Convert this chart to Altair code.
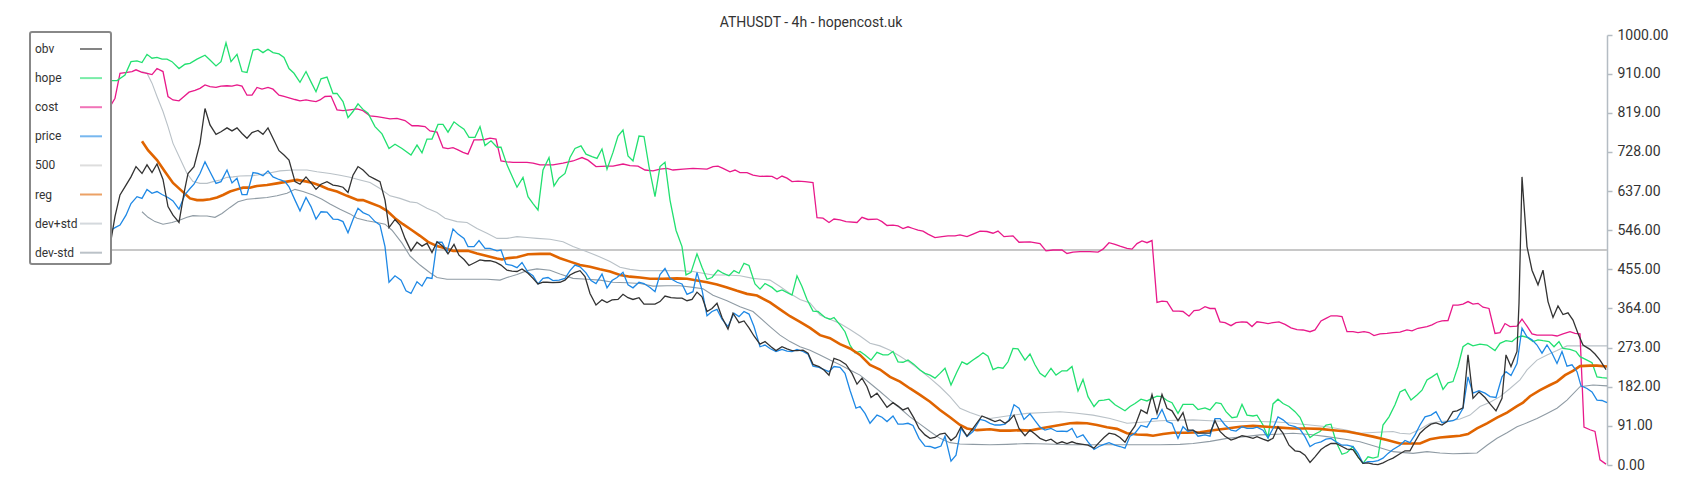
import altair as alt
import pandas as pd

# ---- data (x = time position, v = normalised value 0..1000) ----
obv_x = [100, 111, 115, 120, 126, 131, 136, 142, 147, 152, 157, 163, 168, 173, 179, 184, 188, 194, 200, 205, 210, 216, 221, 227, 232, 237, 242, 247, 252, 258, 263, 268, 273, 279, 284, 289, 295, 300, 306, 311, 316, 321,
         327, 333, 338, 343, 348, 353, 358, 363, 369, 375, 380, 385, 389, 395, 400, 405, 411, 417, 422, 427, 432, 437, 443, 448, 454, 459, 464, 469, 475, 480, 485, 490, 496, 501, 507, 512, 517, 522, 528, 533, 538, 543,
         547, 553, 560, 565, 570, 575, 580, 585, 590, 596, 602, 607, 612, 618, 623, 628, 633, 639, 644, 650, 655, 660, 665, 671, 677, 682, 687, 692, 697, 702, 707, 712, 717, 722, 728, 733, 739, 744, 749, 754, 760, 765,
         771, 776, 782, 787, 792, 797, 803, 808, 813, 819, 824, 829, 834, 840, 846, 852, 857, 862, 867, 871, 877, 882, 887, 893, 898, 903, 908, 914, 919, 925, 930, 935, 940, 945, 951, 956, 961, 967, 973, 982,
         985, 990, 995, 1000, 1005, 1009, 1014, 1019, 1025, 1030, 1035, 1040, 1046, 1051, 1057, 1062, 1067, 1072, 1077, 1083, 1088, 1094, 1099, 1104, 1109, 1115, 1120, 1125, 1130, 1135, 1141, 1147, 1152, 1157, 1162, 1167, 1172, 1178, 1183, 1188, 1193, 1198,
         1205, 1210, 1215, 1220, 1225, 1231, 1236, 1242, 1247, 1253, 1257, 1263, 1268, 1273, 1278, 1283, 1289, 1295, 1300, 1305, 1310, 1315, 1321, 1326, 1331, 1336, 1342, 1347, 1353, 1358, 1363, 1368, 1373, 1378, 1383, 1388, 1393,
         1400, 1405, 1410, 1415, 1420, 1425, 1431, 1436, 1442, 1447, 1453, 1457, 1463, 1468, 1473, 1479, 1485, 1490, 1496, 1502, 1506, 1511, 1517, 1519, 1522, 1527, 1532, 1538, 1543, 1548, 1553, 1558, 1563, 1568, 1573, 1578, 1583, 1590, 1595, 1600, 1606]
obv_v = [523, 523, 578, 628, 651, 670, 694, 678, 698, 680, 700, 664, 601, 581, 564, 632, 678, 694, 748, 829, 791, 769, 775, 784, 777, 784, 771, 760, 773, 778, 769, 784, 760, 731, 721, 709, 659, 653, 670, 656, 641, 653,
         659, 651, 649, 646, 634, 674, 694, 686, 672, 665, 659, 616, 552, 571, 558, 527, 498, 518, 509, 516, 494, 519, 508, 491, 513, 488, 478, 464, 471, 477, 475, 475, 471, 465, 453, 451, 450, 456, 446, 434, 421, 425,
         425, 424, 425, 430, 442, 448, 452, 438, 399, 372, 384, 378, 384, 385, 397, 389, 385, 389, 374, 374, 374, 380, 393, 389, 388, 388, 382, 385, 402, 391, 357, 364, 376, 343, 316, 353, 331, 335, 319, 300, 281, 287,
         275, 266, 275, 270, 266, 266, 267, 260, 234, 229, 221, 209, 248, 243, 234, 213, 188, 202, 182, 157, 167, 151, 134, 145, 137, 128, 133, 109, 85, 70, 62, 64, 72, 74, 57, 66, 89, 67, 85, 114,
         111, 106, 101, 105, 97, 103, 116, 85, 68, 81, 72, 62, 56, 60, 50, 54, 50, 54, 50, 48, 46, 39, 52, 64, 74, 71, 64, 53, 74, 91, 128, 120, 164, 120, 164, 132, 126, 103, 122, 81, 81, 74,
         74, 74, 103, 78, 67, 58, 62, 68, 66, 62, 66, 60, 56, 62, 89, 74, 46, 33, 31, 23, 6, 19, 36, 44, 50, 50, 43, 37, 36, 19, 4, 5, 2, 1, 5, 11, 16,
         26, 33, 33, 54, 74, 85, 95, 98, 93, 101, 124, 126, 133, 256, 155, 170, 157, 142, 126, 155, 256, 229, 264, 376, 670, 508, 453, 419, 453, 380, 343, 370, 350, 354, 337, 306, 279, 269, 258, 244, 222]

hope_x = [100, 111, 117, 125, 131, 137, 142, 147, 152, 157, 162, 167, 172, 179, 185, 190, 197, 205, 210, 216, 221, 226, 231, 237, 242, 247, 253, 258, 263, 268, 273, 279, 284, 289, 294, 300, 306, 311, 316, 321,
          327, 333, 337, 343, 348, 353, 358, 363, 368, 375, 382, 389, 395, 402, 411, 417, 422, 427, 432, 438, 443, 448, 454, 459, 464, 469, 475, 480, 485, 491, 497, 501, 507, 512, 517, 523, 528, 533, 538,
          543, 549, 554, 559, 565, 570, 575, 581, 586, 592, 597, 602, 607, 613, 618, 623, 628, 633, 639, 644, 649, 655, 660, 665, 670, 676, 682, 686, 691, 697, 702, 707, 712, 718, 723, 729, 734, 739, 744, 749, 755, 760, 765,
          772, 777, 782, 792, 797, 802, 807, 813, 818, 825, 830, 834, 840, 845, 850, 855, 860, 865, 871, 877, 883, 888, 893, 898, 903, 908, 914, 920, 925, 930, 935, 940, 945, 951, 957, 962, 967, 973, 978, 983,
          988, 993, 998, 1003, 1008, 1013, 1018, 1025, 1030, 1035, 1040, 1045, 1051, 1056, 1062, 1067, 1072, 1078, 1083, 1088, 1094, 1099, 1104, 1109, 1115, 1120, 1125, 1130, 1135, 1141, 1147, 1152, 1157, 1162, 1167, 1172, 1178, 1183, 1188, 1193, 1198,
          1205, 1210, 1216, 1221, 1226, 1232, 1237, 1242, 1247, 1253, 1257, 1263, 1268, 1273, 1278, 1283, 1289, 1295, 1300, 1305, 1310, 1315, 1320, 1326, 1331, 1336, 1342, 1347, 1353, 1358, 1363, 1368, 1373, 1378, 1383, 1389, 1395,
          1400, 1405, 1411, 1417, 1422, 1427, 1432, 1437, 1443, 1448, 1453, 1458, 1463, 1468, 1473, 1480, 1487, 1495, 1500, 1506, 1512, 1517, 1522, 1527, 1533, 1538, 1543, 1549, 1554, 1559, 1563, 1570, 1576, 1580, 1587, 1592, 1597, 1602, 1607]
hope_v = [894, 894, 894, 907, 938, 940, 936, 955, 946, 948, 944, 944, 938, 922, 932, 934, 944, 953, 942, 928, 938, 982, 938, 955, 915, 913, 965, 967, 959, 967, 959, 956, 948, 922, 911, 890, 915, 891, 868, 898,
          902, 864, 864, 845, 808, 822, 840, 827, 818, 787, 770, 736, 746, 736, 721, 744, 726, 758, 758, 792, 792, 774, 798, 789, 781, 762, 762, 787, 743, 754, 739, 739, 698, 672, 646, 669, 624, 608, 593,
          686, 715, 649, 667, 678, 715, 736, 742, 723, 717, 713, 735, 688, 727, 765, 779, 719, 707, 765, 764, 694, 624, 694, 704, 616, 546, 508, 442, 448, 491, 460, 432, 436, 453, 446, 440, 452, 446, 469, 464, 421, 409, 422,
          413, 403, 407, 395, 440, 415, 385, 358, 357, 343, 339, 343, 326, 310, 279, 261, 264, 256, 244, 262, 256, 256, 264, 240, 239, 244, 234, 221, 213, 209, 202, 213, 225, 186, 217, 240, 234, 244, 252, 261,
          253, 222, 227, 225, 240, 271, 270, 244, 258, 233, 213, 205, 225, 209, 219, 219, 229, 172, 199, 159, 136, 150, 151, 153, 140, 133, 126, 136, 143, 153, 149, 155, 160, 159, 150, 145, 120, 141, 141, 141, 129,
          133, 128, 145, 143, 124, 110, 112, 141, 116, 114, 116, 93, 64, 142, 153, 143, 136, 124, 111, 85, 64, 72, 78, 93, 95, 54, 25, 29, 43, 19, 4, 19, 16, 19, 93, 112, 140,
          170, 176, 151, 163, 174, 198, 205, 213, 176, 191, 194, 229, 275, 283, 277, 281, 279, 266, 283, 289, 287, 297, 300, 297, 287, 291, 289, 287, 275, 287, 271, 269, 264, 252, 244, 238, 205, 203, 202]

cost_x = [100, 111, 115, 120, 127, 132, 136, 142, 147, 152, 157, 163, 168, 173, 179, 184, 189, 195, 200, 205, 210, 216, 221, 227, 232, 237, 242, 247, 252, 257, 262, 268, 273, 279, 284, 289, 295, 300, 306, 311, 316,
          320, 325, 331, 337, 343, 350, 357, 363, 370, 377, 383, 390, 397, 405, 412, 418, 425, 430, 437, 443, 448, 453, 458, 463, 468, 474, 479, 485, 490, 496, 501, 507, 513, 520, 527, 533,
          540, 553, 563, 573, 582, 588, 596, 607, 613, 623, 630, 638, 645, 653, 660, 667, 673, 683, 693, 707, 713, 718, 723, 730, 735, 740, 747, 753,
          760, 767, 772, 777, 782, 787, 792, 798, 805, 813, 817, 823, 829, 834, 840, 846, 857, 862, 868, 877, 882, 887, 893, 898, 903, 908, 913, 918, 923, 928, 935, 942, 948, 955, 960, 967, 973,
          980, 987, 993, 998, 1004, 1013, 1019, 1030, 1040, 1046, 1053, 1062, 1067, 1073, 1080, 1090, 1098, 1103, 1109, 1115, 1120, 1127, 1132, 1137, 1142, 1147, 1152, 1157, 1162, 1167, 1173, 1179, 1183, 1189, 1194, 1199,
          1205, 1210, 1215, 1220, 1225, 1231, 1236, 1242, 1247, 1252, 1257, 1263, 1268, 1273, 1279, 1285, 1291, 1297, 1303, 1310, 1315, 1321, 1326, 1331, 1337, 1342, 1347, 1353, 1358, 1364, 1369, 1374, 1380, 1387, 1393,
          1400, 1407, 1412, 1418, 1427, 1432, 1437, 1442, 1448, 1453, 1458, 1463, 1468, 1473, 1478, 1483, 1489, 1495, 1500, 1505, 1510, 1517, 1522, 1527, 1532, 1537, 1542, 1547, 1552, 1557, 1563, 1570, 1575, 1580, 1584, 1590, 1595, 1600, 1606]
cost_v = [837, 837, 853, 911, 913, 915, 919, 913, 911, 908, 922, 915, 857, 849, 847, 857, 867, 871, 876, 884, 880, 878, 881, 882, 881, 884, 881, 860, 860, 878, 874, 878, 874, 860, 857, 854, 850, 847, 849, 847, 845,
          849, 857, 858, 826, 824, 826, 828, 824, 812, 810, 808, 805, 806, 801, 789, 789, 787, 777, 774, 738, 736, 738, 733, 727, 723, 756, 756, 757, 760, 758, 707, 705, 704, 704, 704, 702,
          698, 698, 702, 707, 715, 709, 694, 695, 695, 700, 696, 695, 686, 684, 688, 690, 686, 688, 690, 688, 694, 695, 690, 682, 686, 680, 680, 674,
          671, 672, 671, 665, 672, 667, 659, 660, 659, 657, 575, 574, 564, 572, 570, 566, 564, 576, 571, 572, 566, 557, 558, 556, 550, 554, 550, 546, 544, 537, 529, 531, 533, 533, 535, 531, 537,
          544, 543, 539, 544, 531, 533, 518, 519, 515, 498, 500, 500, 492, 495, 496, 496, 495, 502, 517, 513, 509, 504, 502, 515, 521, 517, 522, 378, 381, 380, 358, 358, 357, 346, 359, 360,
          368, 364, 364, 333, 331, 324, 331, 333, 332, 322, 333, 331, 329, 331, 333, 327, 319, 315, 314, 310, 314, 335, 341, 347, 347, 345, 310, 310, 308, 310, 308, 301, 305, 306, 308,
          309, 314, 312, 318, 322, 326, 332, 335, 336, 372, 372, 374, 380, 374, 376, 367, 364, 306, 308, 329, 322, 323, 339, 323, 305, 302, 302, 302, 302, 300, 305, 310, 306, 305, 88, 82, 78, 12, 2]

price_x = [100, 111, 115, 120, 126, 131, 137, 142, 147, 152, 157, 162, 168, 173, 179, 185, 190, 194, 200, 205, 210, 216, 221, 227, 232, 237, 242, 247, 253, 258, 263, 268, 273, 279, 285, 289, 295, 300, 306, 311, 316, 321,
           327, 333, 338, 343, 348, 353, 358, 363, 369, 375, 380, 385, 389, 395, 401, 406, 411, 417, 422, 427, 432, 437, 442, 447, 453, 458, 464, 468, 474, 479, 485, 490, 497, 501, 506, 512, 517, 522, 528, 533, 538, 543,
           548, 553, 559, 565, 570, 575, 580, 586, 591, 596, 602, 607, 612, 617, 623, 628, 633, 639, 644, 650, 655, 660, 665, 670, 677, 682, 687, 693, 697, 702, 707, 712, 717, 722, 728, 734, 739, 744, 749, 754, 760, 765,
           770, 776, 782, 787, 792, 797, 803, 808, 813, 819, 824, 829, 834, 840, 845, 850, 856, 860, 865, 870, 877, 882, 887, 893, 898, 903, 908, 913, 919, 925, 930, 935, 941, 945, 951, 956, 961, 967, 973, 980,
           985, 990, 995, 1000, 1005, 1009, 1014, 1019, 1024, 1030, 1035, 1040, 1045, 1051, 1057, 1062, 1067, 1072, 1077, 1083, 1088, 1094, 1099, 1104, 1109, 1115, 1120, 1125, 1130, 1135, 1141, 1147, 1152, 1157, 1162, 1167, 1172, 1178, 1183, 1188, 1193, 1198,
           1205, 1210, 1215, 1220, 1225, 1231, 1236, 1242, 1247, 1253, 1257, 1263, 1268, 1273, 1278, 1283, 1289, 1295, 1300, 1305, 1310, 1315, 1321, 1326, 1331, 1336, 1342, 1347, 1353, 1358, 1363, 1368, 1373, 1378, 1383, 1388, 1393,
           1400, 1405, 1410, 1415, 1420, 1425, 1431, 1436, 1442, 1447, 1453, 1457, 1463, 1468, 1473, 1479, 1485, 1490, 1496, 1502, 1506, 1511, 1517, 1522, 1527, 1532, 1537, 1542, 1547, 1552, 1557, 1562, 1567, 1572, 1577, 1581, 1587, 1592, 1597, 1602, 1607]
price_v = [546, 546, 552, 558, 581, 608, 624, 620, 641, 632, 636, 629, 622, 614, 595, 629, 643, 653, 678, 705, 682, 655, 659, 686, 656, 667, 629, 629, 680, 678, 673, 684, 670, 664, 659, 647, 616, 591, 622, 601, 572, 589,
           588, 572, 571, 566, 540, 571, 597, 587, 581, 566, 558, 508, 425, 440, 430, 405, 399, 426, 416, 436, 434, 518, 518, 496, 549, 537, 527, 508, 508, 522, 504, 504, 498, 500, 467, 464, 459, 471, 448, 440, 421, 434,
           436, 429, 430, 434, 452, 465, 461, 447, 429, 422, 444, 412, 429, 436, 448, 419, 412, 425, 422, 413, 403, 443, 457, 434, 425, 421, 397, 403, 448, 407, 347, 357, 362, 339, 322, 353, 345, 357, 351, 322, 275, 279,
           271, 264, 269, 265, 264, 269, 264, 258, 230, 227, 222, 217, 229, 227, 213, 174, 132, 136, 120, 97, 116, 111, 101, 114, 95, 95, 97, 92, 62, 44, 43, 39, 44, 67, 9, 23, 85, 66, 78, 106,
           103, 97, 93, 93, 95, 105, 140, 132, 106, 119, 103, 88, 81, 85, 78, 79, 78, 85, 64, 70, 54, 36, 43, 48, 52, 46, 43, 39, 67, 74, 92, 88, 108, 108, 129, 101, 97, 62, 89, 78, 81, 67,
           70, 67, 108, 108, 93, 81, 79, 89, 85, 85, 88, 81, 63, 85, 112, 105, 93, 89, 83, 66, 43, 50, 54, 60, 62, 54, 46, 46, 43, 27, 4, 8, 8, 10, 16, 27, 36,
           46, 57, 52, 70, 93, 112, 116, 124, 98, 101, 103, 108, 132, 205, 167, 173, 167, 159, 157, 205, 217, 208, 236, 318, 298, 291, 279, 260, 279, 260, 236, 264, 230, 233, 217, 184, 178, 170, 151, 150, 145]

level_x = [100, 1607]
level_v = [500, 500]

reg_x = [142, 148, 157, 165, 173, 182, 190, 197, 203, 210, 217, 223, 230, 237, 243, 250, 257, 267, 277, 287, 297, 307, 313,
         320, 328, 337, 347, 358, 363, 370, 380, 387, 395, 403, 412, 420, 428, 437, 445, 453, 468, 477, 487, 497, 502, 507, 517, 528, 540,
         550, 560, 570, 580, 590, 600, 610, 620, 630, 640, 650, 663, 677, 687, 697, 707, 717, 727, 737, 747, 757,
         770, 780, 790, 800, 810, 820, 830, 840, 850, 860, 870, 880, 890, 900, 910, 920, 930, 940, 950, 960, 967, 977, 990,
         1000, 1010, 1020, 1030, 1040, 1050, 1060, 1070, 1077, 1087, 1097, 1107, 1117, 1127, 1137, 1147, 1153, 1163, 1173, 1187, 1200,
         1213, 1227, 1240, 1253, 1267, 1280, 1293, 1307, 1320, 1333, 1347, 1360, 1373, 1387, 1400,
         1410, 1420, 1430, 1440, 1450, 1460, 1468, 1477, 1487, 1497, 1507, 1517, 1523, 1530, 1540, 1550, 1557, 1565, 1573, 1580, 1590, 1597, 1607]
reg_v = [753, 732, 709, 682, 656, 637, 620, 616, 616, 618, 622, 628, 636, 641, 645, 645, 649, 651, 655, 659, 663, 659, 656,
         650, 642, 636, 626, 616, 616, 610, 601, 591, 574, 560, 546, 533, 519, 509, 504, 498, 498, 492, 486, 480, 478, 481, 483, 490, 491,
         491, 481, 473, 465, 461, 455, 450, 442, 438, 436, 433, 433, 434, 433, 429, 425, 420, 413, 405, 398, 394,
         378, 362, 346, 333, 319, 302, 295, 281, 271, 256, 233, 222, 205, 194, 178, 163, 147, 128, 111, 93, 85, 81, 83,
         80, 80, 81, 80, 85, 89, 93, 97, 98, 97, 93, 88, 84, 74, 71, 70, 68, 72, 75, 75, 76,
         81, 85, 89, 91, 89, 87, 85, 85, 84, 81, 78, 72, 66, 58, 50,
         50, 50, 60, 64, 66, 68, 72, 85, 97, 110, 122, 137, 145, 160, 174, 186, 194, 209, 219, 230, 231, 231, 229]

devp_x = [142, 147, 152, 157, 163, 168, 173, 180, 187, 193, 200, 207, 213, 220, 227, 233, 240, 253, 267, 280, 293, 307, 317,
          330, 340, 350, 360, 370, 380, 390, 400, 410, 417, 427, 437, 445, 457, 467, 477, 487, 497, 507, 517, 527, 537,
          550, 563, 573, 587, 600, 610, 620, 630, 640, 653, 667, 680, 693, 703, 713, 727, 740, 753,
          770, 780, 790, 800, 810, 820, 830, 840, 850, 860, 870, 880, 890, 900, 910, 920, 930, 940, 950, 960, 970, 980, 990,
          1007, 1027, 1045, 1060, 1075, 1093, 1110, 1127, 1145, 1160, 1177, 1193, 1210, 1227, 1245, 1260, 1277, 1293, 1310, 1327, 1345, 1360, 1377, 1393,
          1400, 1410, 1420, 1430, 1440, 1450, 1460, 1470, 1480, 1490, 1500, 1510, 1520, 1527, 1537, 1547, 1557, 1567, 1580, 1593, 1607]
devp_v = [915, 911, 888, 857, 822, 787, 748, 713, 678, 659, 655, 655, 659, 663, 669, 670, 672, 673, 678, 684, 686, 686, 682,
          678, 674, 669, 663, 657, 643, 626, 620, 612, 610, 597, 587, 574, 566, 564, 550, 539, 527, 527, 531, 529, 527,
          525, 519, 508, 496, 484, 473, 460, 455, 452, 452, 452, 452, 450, 446, 442, 442, 440, 434,
          430, 415, 399, 385, 377, 349, 339, 329, 315, 300, 283, 277, 267, 253, 238, 221, 202, 182, 159, 132, 122, 114, 108,
          114, 120, 122, 124, 121, 116, 108, 97, 100, 103, 104, 105, 103, 101, 101, 101, 100, 97, 93, 89, 82, 74, 76, 78,
          74, 72, 83, 97, 101, 103, 107, 116, 136, 146, 159, 178, 198, 221, 244, 256, 266, 277, 277, 277, 277]

devm_x = [142, 148, 155, 163, 172, 180, 187, 193, 200, 207, 215, 222, 230, 238, 247, 257, 267, 277, 287, 295, 303, 313, 322,
          330, 340, 350, 357, 367, 377, 385, 392, 402, 410, 420, 430, 437, 447, 460, 473, 487, 500, 507, 517, 527, 537,
          550, 560, 573, 587, 600, 613, 627, 640, 653, 667, 680, 693, 703, 713, 727, 740, 753,
          770, 780, 790, 800, 810, 820, 830, 840, 850, 860, 870, 880, 890, 900, 910, 920, 930, 940, 950, 960, 973, 990,
          1007, 1027, 1047, 1070, 1093, 1120, 1140, 1160, 1180, 1193, 1210, 1227, 1245, 1260, 1280, 1293, 1310, 1327, 1345, 1360, 1380, 1393,
          1413, 1427, 1440, 1453, 1467, 1477, 1487, 1497, 1507, 1517, 1527, 1537, 1547, 1557, 1567, 1580, 1593, 1607]
devm_v = [589, 576, 566, 560, 564, 570, 576, 580, 579, 579, 576, 585, 599, 612, 618, 620, 622, 626, 632, 641, 636, 628, 618,
          607, 595, 584, 574, 568, 564, 560, 546, 516, 486, 465, 447, 436, 432, 432, 432, 432, 430, 436, 443, 452, 456,
          453, 444, 434, 432, 430, 425, 424, 422, 416, 417, 417, 413, 410, 395, 382, 368, 357,
          322, 302, 287, 275, 267, 256, 244, 233, 221, 209, 190, 171, 151, 132, 112, 95, 78, 62, 52, 49, 48, 47,
          48, 50, 49, 47, 47, 47, 47, 47, 48, 50, 55, 62, 66, 70, 72, 74, 71, 66, 60, 54, 40, 31,
          27, 31, 28, 26, 27, 28, 46, 62, 75, 89, 98, 108, 120, 132, 151, 182, 186, 184]

names = ["obv", "hope", "cost", "price", "500", "reg", "dev+std", "dev-std"]
colors = ["#333333", "#22e070", "#e8198a", "#1e88e5", "#c8c8c8", "#e06400", "#b9c1c7", "#8f9ba4"]
widths = {"obv": 1.3, "hope": 1.3, "cost": 1.3, "price": 1.3, "500": 2.2,
          "reg": 2.6, "dev+std": 1.1, "dev-std": 1.1}
series = {
    "obv": (obv_x, obv_v), "hope": (hope_x, hope_v), "cost": (cost_x, cost_v),
    "price": (price_x, price_v), "500": (level_x, level_v), "reg": (reg_x, reg_v),
    "dev+std": (devp_x, devp_v), "dev-std": (devm_x, devm_v),
}

frames = {}
for name, (xs, vs) in series.items():
    frames[name] = pd.DataFrame({"bar": [(x - 100) / 5 for x in xs], "value": vs, "series": name})

x_scale = alt.Scale(domain=[-17, 301.4], nice=False, zero=False)
y_scale = alt.Scale(domain=[0, 1000], nice=False, zero=True)
color_scale = alt.Scale(domain=names, range=colors)
tick_vals = [0, 91, 182, 273, 364, 455, 546, 637, 728, 819, 910, 1000]

legend = alt.Legend(
    title=None, orient="none", legendX=15, legendY=-3,
    symbolType="stroke", symbolSize=484, symbolStrokeWidth=2, symbolOpacity=0.6,
    symbolOffset=44, labelOffset={"expr": "-68"}, rowPadding=11.1,
    labelFont="Roboto", labelFontSize=12, labelColor="#333333",
    strokeColor="#888888", fillColor="white", padding=5, cornerRadius=2,
)

draw_order = ["500", "dev+std", "dev-std", "cost", "hope", "reg", "price", "obv"]
layers = []
for name in draw_order:
    layers.append(
        alt.Chart(frames[name]).mark_line(strokeWidth=widths[name], interpolate="linear").encode(
            x=alt.X("bar:Q", scale=x_scale, axis=None),
            y=alt.Y("value:Q", scale=y_scale, axis=alt.Axis(
                orient="right", values=tick_vals, format=".2f", title=None, grid=False,
                labelFont="Roboto", labelFontSize=14, labelColor="#333333",
                domainColor="#b4bcc3", domainWidth=1.5, tickColor="#b4bcc3",
                tickWidth=1.5, tickSize=5, labelPadding=5)),
            color=alt.Color("series:N", scale=color_scale, legend=legend),
        )
    )

chart = alt.layer(*layers).properties(
    width=1592, height=430,
    title=alt.Title("ATHUSDT - 4h - hopencost.uk", font="Roboto", fontSize=14,
                    fontWeight="normal", color="#333333", offset=-2),
    autosize=alt.AutoSizeParams(type="none"),
    padding={"left": 7, "top": 27, "right": 80, "bottom": 10},
).configure_view(stroke=None).configure_legend(strokeWidth=2)

chart.save("out.html", embed_options={"renderer": "svg", "actions": False})
